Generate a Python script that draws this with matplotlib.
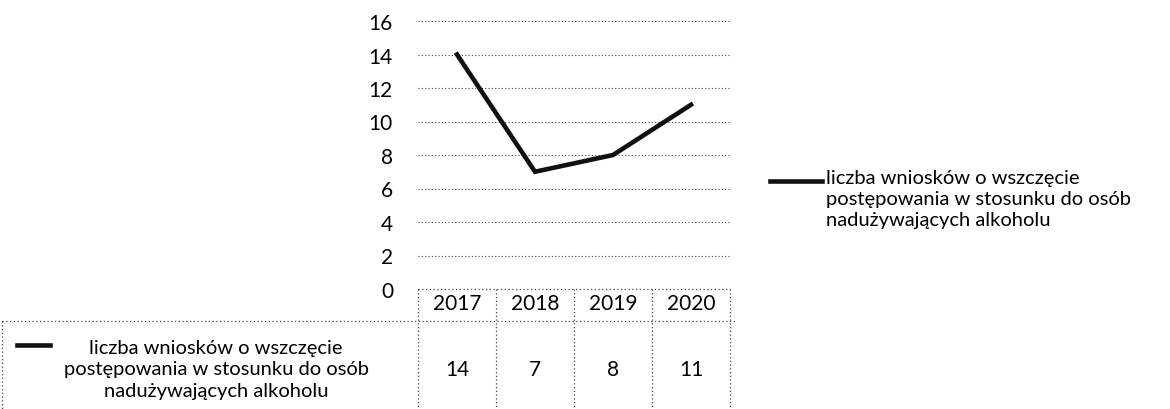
import numpy as np
import matplotlib.pyplot as plt
from matplotlib.lines import Line2D
from matplotlib.transforms import blended_transform_factory

plt.rcParams['font.family'] = ['Lato', 'DejaVu Sans']

# dane
lata = ["2017", "2018", "2019", "2020"]
wnioski = [14, 7, 8, 11]
etykieta = "liczba wniosków o wszczęcie\npostępowania w stosunku do osób\nnadużywających alkoholu"
yticks = [0, 2, 4, 6, 8, 10, 12, 14, 16]

W, H = 1170, 410
fig = plt.figure(figsize=(W / 100, H / 100), dpi=100)

def fx(px):
    return px / W

def fy(py):
    return 1 - py / H

# obszar wykresu
ax = fig.add_axes([fx(418), fy(290), fx(730) - fx(418), fy(22) - fy(290)])
x = np.arange(len(lata))
ax.plot(x, wnioski, color="#111111", lw=3.3, solid_joinstyle="miter")
ax.set_xlim(-0.5, len(lata) - 0.5)
ax.set_ylim(0, 16)
ax.set_yticks(yticks)
ax.set_yticklabels([str(v) for v in yticks], fontsize=15)
ax.set_xticks([])
ax.tick_params(axis="y", length=0, pad=18)
for s in ax.spines.values():
    s.set_visible(False)
for v in yticks[1:]:
    ax.axhline(v, color="#444444", lw=0.8, ls=(0, (1, 2)), zorder=0)

# tabela danych pod osia
tr = blended_transform_factory(ax.transData, fig.transFigure)
grid_kw = dict(color="#444444", lw=0.9, ls=(0, (1, 2)), clip_on=False)
y_top, y_mid, y_bot = fy(290), fy(322), fy(410)
fig.add_artist(Line2D([-0.5, len(lata) - 0.5], [y_top, y_top], transform=tr, **grid_kw))
for b in np.arange(len(lata) + 1) - 0.5:
    fig.add_artist(Line2D([b, b], [y_top, y_bot], transform=tr, **grid_kw))
fig.add_artist(Line2D([fx(2), fx(735)], [y_mid, y_mid], transform=fig.transFigure, **grid_kw))
fig.add_artist(Line2D([fx(2), fx(2)], [y_mid, y_bot], transform=fig.transFigure, **grid_kw))

for i, (rok, v) in enumerate(zip(lata, wnioski)):
    fig.text(i, fy(304), rok, transform=tr, ha="center", va="center", fontsize=15)
    fig.text(i, fy(370), str(v), transform=tr, ha="center", va="center", fontsize=15)

fig.add_artist(Line2D([fx(17), fx(50)], [fy(346), fy(346)], color="#111111", lw=3.3,
                      transform=fig.transFigure))
fig.text(fx(216), fy(370), etykieta, ha="center", va="center", fontsize=14.5, linespacing=1.3)

# legenda po prawej
fig.add_artist(Line2D([fx(770), fx(822)], [fy(182), fy(182)], color="#111111", lw=3.3,
                      transform=fig.transFigure))
fig.text(fx(826), fy(170), etykieta, ha="left", va="top", fontsize=14.5, linespacing=1.3)

fig.savefig("out.png", dpi=100)
